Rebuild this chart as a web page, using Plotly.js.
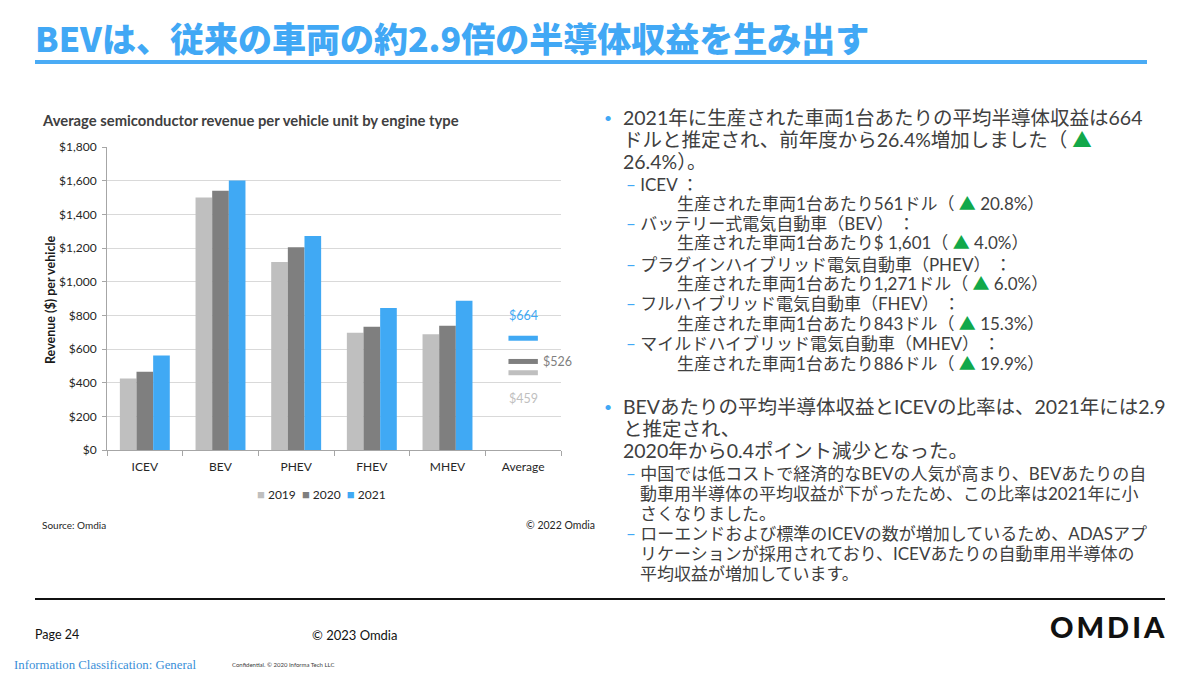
<!DOCTYPE html>
<html><head><meta charset="utf-8">
<script src="https://cdn.plot.ly/plotly-3.0.1.min.js"></script>
<style>
html,body{margin:0;padding:0;background:#fff;}
#page{position:relative;width:1200px;height:675px;overflow:hidden;font-family:Lato,"Noto Sans CJK JP",sans-serif;color:#404040;}
#chart{position:absolute;left:0;top:0;width:1200px;height:675px;}
.a{position:absolute;white-space:nowrap;}
.b1{font-size:19.5px;line-height:20px;}
.s1{font-size:17px;line-height:18px;}
.s2{font-size:17px;line-height:18px;}
.d{color:#41a8f5;}
.g{color:#12a84a;}
</style></head>
<body><div id="page">
<div id="chart"></div>

<div class="a" style="left:35px;top:16px;font-family:'Noto Sans CJK JP',sans-serif;font-weight:900;font-size:34px;line-height:44px;color:#41a8f5;">BEVは、従来の車両の約2.9倍の半導体収益を生み出す</div>
<div class="a" style="left:35px;top:60px;width:1112px;height:4px;background:#4aabf5;"></div>

<div class="a d" style="left:604px;top:108px;font-size:14px;line-height:20px;">•</div>
<div class="a b1" style="left:623px;top:108px;">2021年に生産された車両1台あたりの平均半導体収益は664</div>
<div class="a b1" style="left:623px;top:130px;">ドルと推定され、前年度から26.4%増加しました（ <span class="g">▲</span></div>
<div class="a b1" style="left:623px;top:152px;">26.4%）。</div>

<div class="a s1" style="left:626px;top:176px;"><span class="d">–</span> ICEV ：</div>
<div class="a s1" style="left:677px;top:195px;">生産された車両1台あたり561ドル（ <span class="g">▲</span> 20.8%）</div>
<div class="a s1" style="left:626px;top:215px;"><span class="d">–</span> バッテリー式電気自動車（BEV） ：</div>
<div class="a s1" style="left:677px;top:234px;">生産された車両1台あたり$ 1,601（ <span class="g">▲</span> 4.0%）</div>
<div class="a s1" style="left:626px;top:256px;"><span class="d">–</span> プラグインハイブリッド電気自動車（PHEV） ：</div>
<div class="a s1" style="left:677px;top:275px;">生産された車両1台あたり1,271ドル（ <span class="g">▲</span> 6.0%）</div>
<div class="a s1" style="left:626px;top:295px;"><span class="d">–</span> フルハイブリッド電気自動車（FHEV） ：</div>
<div class="a s1" style="left:677px;top:315px;">生産された車両1台あたり843ドル（ <span class="g">▲</span> 15.3%）</div>
<div class="a s1" style="left:626px;top:335px;"><span class="d">–</span> マイルドハイブリッド電気自動車（MHEV） ：</div>
<div class="a s1" style="left:677px;top:355px;">生産された車両1台あたり886ドル（ <span class="g">▲</span> 19.9%）</div>

<div class="a d" style="left:604px;top:397px;font-size:14px;line-height:20px;">•</div>
<div class="a b1" style="left:623px;top:397px;">BEVあたりの平均半導体収益とICEVの比率は、2021年には2.9</div>
<div class="a b1" style="left:623px;top:419px;">と推定され、</div>
<div class="a b1" style="left:623px;top:441px;">2020年から0.4ポイント減少となった。</div>

<div class="a s2" style="left:626px;top:465px;"><span class="d">–</span> 中国では低コストで経済的なBEVの人気が高まり、BEVあたりの自</div>
<div class="a s2" style="left:640px;top:485px;">動車用半導体の平均収益が下がったため、この比率は2021年に小</div>
<div class="a s2" style="left:640px;top:505px;">さくなりました。</div>
<div class="a s2" style="left:626px;top:525px;"><span class="d">–</span> ローエンドおよび標準のICEVの数が増加しているため、ADASアプ</div>
<div class="a s2" style="left:640px;top:545px;">リケーションが採用されており、ICEVあたりの自動車用半導体の</div>
<div class="a s2" style="left:640px;top:565px;">平均収益が増加しています。</div>

<div class="a" style="left:35px;top:598px;width:1130px;height:2px;background:#111;"></div>
<div class="a" style="left:35px;top:626px;font-size:12.5px;line-height:18px;color:#111;">Page 24</div>
<div class="a" style="left:312px;top:626px;font-size:13px;line-height:18px;color:#111;">© 2023 Omdia</div>
<div class="a" style="left:1050px;top:610px;font-size:29px;line-height:34px;font-weight:900;letter-spacing:3px;color:#111;">OMDIA</div>
<div class="a" style="left:14px;top:657px;font-family:'Liberation Serif',serif;font-size:12.8px;line-height:16px;color:#3a8fd8;">Information Classification: General</div>
<div class="a" style="left:232px;top:660px;font-size:6px;line-height:10px;color:#404040;">Confidential. © 2020 Informa Tech LLC</div>
</div>
<script>
const categories = ['ICEV','BEV','PHEV','FHEV','MHEV'];
const averageLabel = 'Average';
const years = ['2019','2020','2021'];
const rev2019 = [425,1500,1117,696,688];
const rev2020 = [465,1540,1204,732,738];
const rev2021 = [561,1601,1271,843,886];
const averages = [459,526,664];
const averageText = ['$459','$526','$664'];

const seriesValues = [rev2019, rev2020, rev2021];
const colors = ['#bfbfbf','#7f7f7f','#40a9f4'];
const W = 1200, H = 675;
const px = v => v / W, py = v => 1 - v / H;

const traces = [];
years.forEach((yr, i) => {
  traces.push({type:'bar', name:yr, x:categories, y:seriesValues[i],
    marker:{color:colors[i]}, showlegend:false, hoverinfo:'skip'});
});
years.forEach((yr, i) => {
  traces.push({type:'scatter', mode:'markers', x:[averageLabel], y:[averages[i]],
    marker:{symbol:'line-ew', size:21, color:colors[i], line:{width:5, color:colors[i]}},
    showlegend:false, hoverinfo:'skip', cliponaxis:false});
});

const labelShift = [{x:0,y:-26},{x:34,y:0},{x:0,y:23}];
const annotations = years.map((yr, i) => ({
  x: averageLabel, y: averages[i], xref:'x', yref:'y', text: averageText[i],
  showarrow:false, xshift: labelShift[i].x, yshift: labelShift[i].y,
  font:{family:'Lato', size:12.5, color: colors[i]}
}));

annotations.push({xref:'paper', yref:'paper', x:px(40), y:py(120), xanchor:'left', yanchor:'middle',
  text:'<b>Average semiconductor revenue per vehicle unit by engine type</b>', showarrow:false,
  font:{family:'Lato', size:14.8, color:'#404040'}});
annotations.push({xref:'paper', yref:'paper', x:px(50), y:py(300), xanchor:'center', yanchor:'middle',
  textangle:-90, text:'<b>Revenue ($) per vehicle</b>', showarrow:false,
  font:{family:'Lato', size:12.5, color:'#1a1a1a'}});
annotations.push({xref:'paper', yref:'paper', x:px(321), y:py(494), xanchor:'center', yanchor:'middle',
  text: years.map((yr,i)=>`<span style="color:${colors[i]};font-size:13px">■</span> ${yr}`).join('  '),
  showarrow:false, font:{family:'Lato', size:12, color:'#262626'}});
annotations.push({xref:'paper', yref:'paper', x:px(40), y:py(525), xanchor:'left', yanchor:'middle',
  text:'Source: Omdia', showarrow:false, font:{family:'Lato', size:10, color:'#262626'}});
annotations.push({xref:'paper', yref:'paper', x:px(597), y:py(525), xanchor:'right', yanchor:'middle',
  text:'© 2022 Omdia', showarrow:false, font:{family:'Lato', size:10.5, color:'#262626'}});

const layout = {
  width:W, height:H, margin:{l:0,r:0,t:0,b:0},
  paper_bgcolor:'rgba(0,0,0,0)', plot_bgcolor:'#fff',
  barmode:'group', bargap:0.34, bargroupgap:0,
  showlegend:false,
  font:{family:'Lato', color:'#262626'},
  xaxis:{type:'category', categoryorder:'array', categoryarray:[...categories, averageLabel],
    range:[-0.5,5.5], domain:[px(107), px(561)], showline:true, linecolor:'#a6a6a6', linewidth:1,
    ticks:'outside', tickson:'boundaries', ticklen:5, tickcolor:'#a6a6a6', showgrid:false,
    tickfont:{family:'Lato', size:12, color:'#262626'}, ticklabelstandoff:6, fixedrange:true},
  yaxis:{range:[0,1800], dtick:200, tickprefix:'$', tickformat:',d', domain:[py(450), py(147)],
    showgrid:true, gridcolor:'#d9d9d9', gridwidth:1, zeroline:false,
    showline:true, linecolor:'#a6a6a6', linewidth:1, ticks:'outside', ticklen:4, tickcolor:'#a6a6a6',
    tickfont:{family:'Lato', size:12, color:'#262626'}, ticklabelstandoff:3, fixedrange:true},
  annotations
};
Plotly.newPlot('chart', traces, layout, {staticPlot:true, displayModeBar:false});
</script>
</body></html>
